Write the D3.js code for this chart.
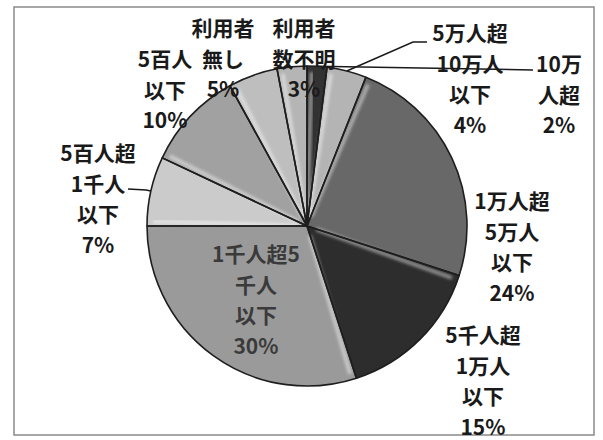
<!DOCTYPE html>
<html>
<head>
<meta charset="utf-8">
<script src="https://cdn.jsdelivr.net/npm/d3@7/dist/d3.min.js"></script>
<style>
  html, body { margin: 0; padding: 0; background: #fff; }
  svg { display: block; }
</style>
</head>
<body>
<svg id="chart" width="603" height="440"></svg>
<script>
// ---- data ----
const categories = [
  "10万人超",
  "5万人超10万人以下",
  "1万人超5万人以下",
  "5千人超1万人以下",
  "1千人超5千人以下",
  "5百人超1千人以下",
  "5百人以下",
  "利用者無し",
  "利用者数不明"
];
const values = [2, 4, 24, 15, 30, 7, 10, 5, 3];
const labelLines = [
  ["10万", "人超"],
  ["5万人超", "10万人", "以下"],
  ["1万人超", "5万人", "以下"],
  ["5千人超", "1万人", "以下"],
  ["1千人超5", "千人", "以下"],
  ["5百人超", "1千人", "以下"],
  ["5百人", "以下"],
  ["利用者", "無し"],
  ["利用者", "数不明"]
];

// ---- layout / style (not data) ----
const W = 603, H = 440;
const cx = 307, cy = 226, R = 160;
const sliceColors = ["#383838", "#c8c8c8", "#747474", "#323232", "#ababab", "#e2e2e2", "#b3b3b3", "#d4d4d4", "#c9c9c9"];
const labelPos = [
  {x: 559, y: 63},
  {x: 470, y: 32},
  {x: 512, y: 200},
  {x: 483, y: 334},
  {x: 256, y: 253},
  {x: 98,  y: 152},
  {x: 165, y: 58},
  {x: 223, y: 27},
  {x: 304, y: 27}
];
const lineGap = 30.5;

const svg = d3.select("#chart");

// frame
svg.append("rect")
  .attr("x", 14).attr("y", 7).attr("width", 580).attr("height", 428)
  .attr("fill", "#fff").attr("stroke", "#8a8a8a").attr("stroke-width", 1.5);

const defs = svg.append("defs");
sliceColors.forEach((c, i) => {
  const g = defs.append("radialGradient")
    .attr("id", "g" + i)
    .attr("gradientUnits", "userSpaceOnUse")
    .attr("cx", cx).attr("cy", cy).attr("r", R);
  const base = d3.color(c);
  g.append("stop").attr("offset", "0%").attr("stop-color", base.brighter(0.15));
  g.append("stop").attr("offset", "82%").attr("stop-color", base);
  g.append("stop").attr("offset", "100%").attr("stop-color", base.darker(0.3));
});
const blur = defs.append("filter").attr("id", "soft").attr("x", "-20%").attr("y", "-20%").attr("width", "140%").attr("height", "140%");
blur.append("feGaussianBlur").attr("stdDeviation", 1.5);

const pie = d3.pie().sort(null).value(d => d).startAngle(0).endAngle(2 * Math.PI);
const arcs = pie(values);
const arc = d3.arc().innerRadius(0).outerRadius(R);

const gPie = svg.append("g").attr("transform", `translate(${cx},${cy})`);
gPie.selectAll("path.slice")
  .data(arcs)
  .join("path")
  .attr("class", "slice")
  .attr("d", arc)
  .attr("fill", (d, i) => `url(#g${i})`);

// soft highlight along slice starting edges (bevel look)
gPie.selectAll("line.hl")
  .data(arcs)
  .join("line")
  .attr("class", "hl")
  .attr("x1", d => 10 * Math.sin(d.startAngle + 0.03))
  .attr("y1", d => -10 * Math.cos(d.startAngle + 0.03))
  .attr("x2", d => (R - 6) * Math.sin(d.startAngle + 0.03))
  .attr("y2", d => -(R - 6) * Math.cos(d.startAngle + 0.03))
  .attr("stroke", "#ffffff")
  .attr("stroke-opacity", 0.45)
  .attr("stroke-width", 4)
  .attr("filter", "url(#soft)");

gPie.selectAll("path.edge")
  .data(arcs)
  .join("path")
  .attr("class", "edge")
  .attr("d", arc)
  .attr("fill", "none")
  .attr("stroke", "#1e1e1e")
  .attr("stroke-width", 1.6)
  .attr("stroke-linejoin", "round");

// leader lines from slice edges to labels
const edgePt = (i, rr) => {
  const a = (arcs[i].startAngle + arcs[i].endAngle) / 2;
  return [cx + rr * Math.sin(a), cy - rr * Math.cos(a)];
};
const leaders = [
  {i: 0, pts: [[533, 70]]},
  {i: 1, pts: [[413, 42], [427, 42]]},
  {i: 5, pts: [[146, 190], [128, 189]]}
];
const lineGen = d3.line();
leaders.forEach(l => {
  const p0 = edgePt(l.i, R);
  svg.append("path")
    .attr("d", lineGen([p0, ...l.pts]))
    .attr("fill", "none")
    .attr("stroke", "#1a1a1a")
    .attr("stroke-width", 1.5);
});

// labels
const fmt = v => Math.round(v / d3.sum(values) * 100) + "%";
labelLines.forEach((lines, i) => {
  const all = lines.concat([fmt(values[i])]);
  const t = svg.append("text")
    .attr("text-anchor", "middle")
    .attr("font-family", "'Noto Sans CJK JP', 'Noto Sans', sans-serif")
    .attr("font-size", 21)
    .attr("font-weight", 700)
    .attr("fill", i === 4 ? "#3a3a3a" : "#1a1a1a");
  all.forEach((s, k) => {
    t.append("tspan")
      .attr("x", labelPos[i].x)
      .attr("y", labelPos[i].y + k * lineGap)
      .attr("dominant-baseline", "central")
      .text(s);
  });
});
</script>
</body>
</html>
